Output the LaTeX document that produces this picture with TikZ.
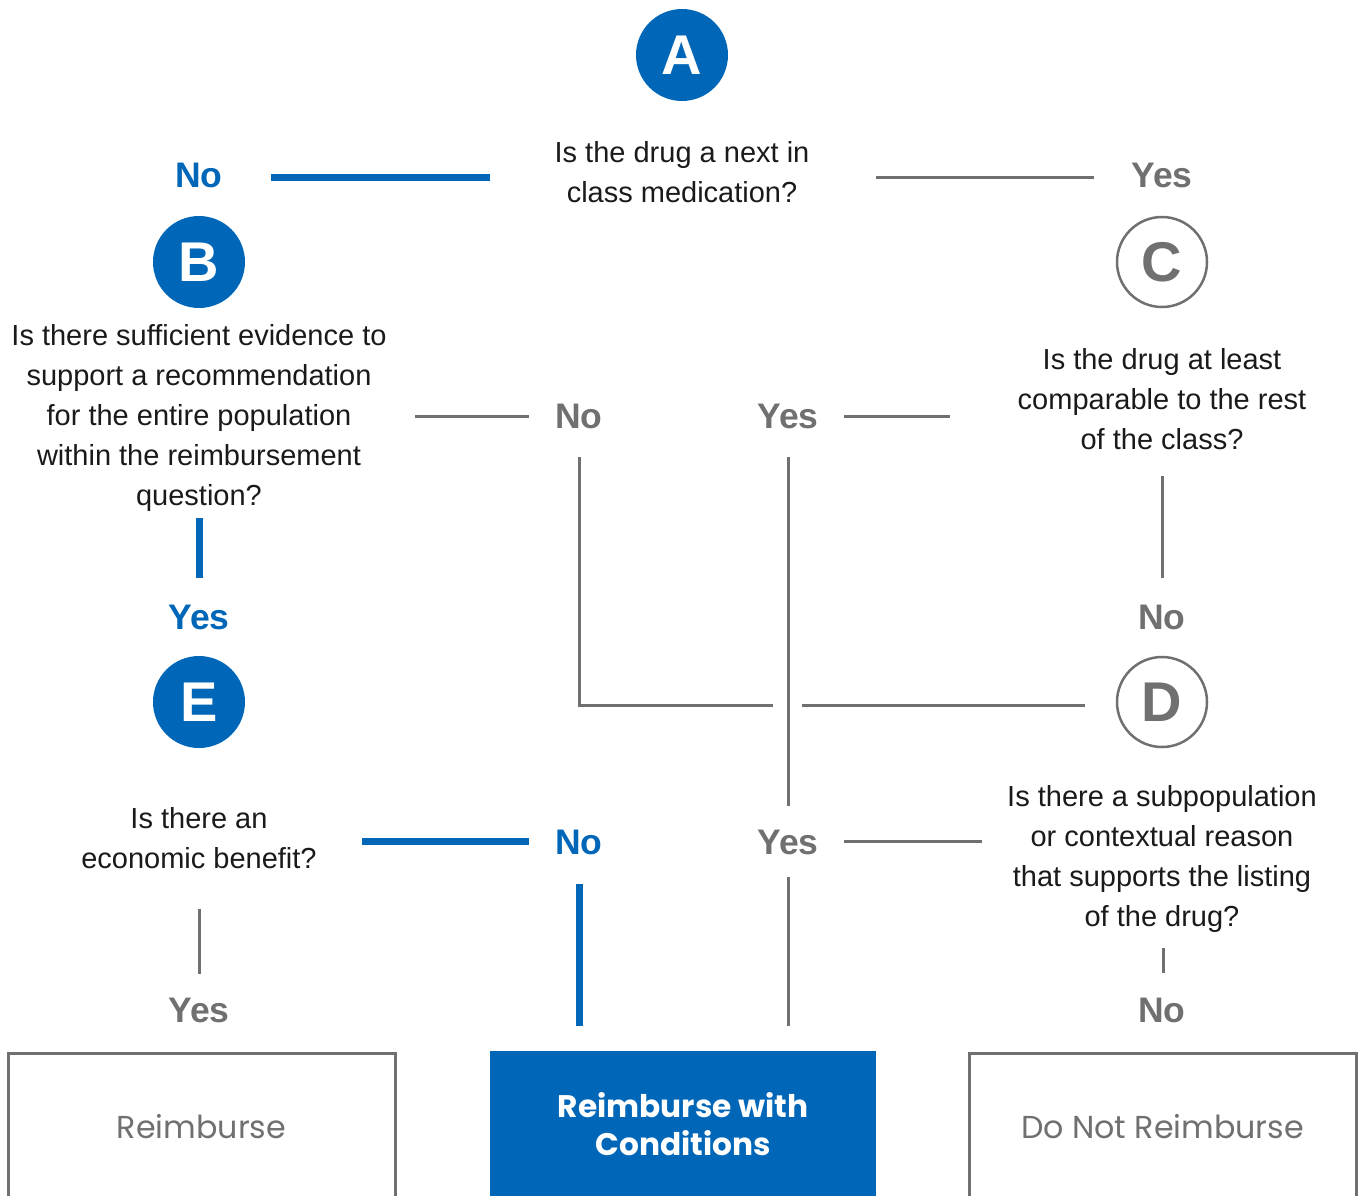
\documentclass[tikz,border=0pt]{standalone}
\usepackage{fontspec}
\setmainfont{Liberation Sans}
\newfontfamily\boxfont{Poppins}
\definecolor{cblue}{RGB}{0,102,184}
\definecolor{cgray}{RGB}{112,112,112}
\definecolor{ctext}{RGB}{26,26,26}
\tikzset{
  qtext/.style={align=center,text=ctext,font=\fontsize{29}{39.8}\selectfont,inner sep=0pt},
  lblue/.style={text=cblue,font=\fontsize{35.5}{40}\selectfont\bfseries,inner sep=0pt},
  lgray/.style={text=cgray,font=\fontsize{35.5}{40}\selectfont\bfseries,inner sep=0pt},
  cfill/.style={circle,fill=cblue,minimum size=92pt,inner sep=0pt,text=white,font=\fontsize{56}{56}\selectfont\bfseries},
  copen/.style={circle,draw=cgray,line width=2.5pt,fill=white,minimum size=90pt,inner sep=0pt,text=cgray,font=\fontsize{56}{56}\selectfont\bfseries},
  bline/.style={draw=cblue,line width=7pt},
  gline/.style={draw=cgray,line width=3pt},
  obox/.style={draw=cgray,line width=3pt,fill=white},
}
\begin{document}
\begin{tikzpicture}[x=1pt,y=-1pt]
\useasboundingbox (0,0) rectangle (1358,1195);
% circles
\node[cfill] (cA) at (682,55) {A};
\node[cfill] (cB) at (199,262) {B};
\node[copen] (cC) at (1162,262) {C};
\node[cfill] (cE) at (199,702) {E};
\node[copen] (cD) at (1162,702) {D};
% questions
\node[qtext] (qA) at (682,172) {Is the drug a next in\\class medication?};
\node[qtext] (qB) at (199,418) {Is there sufficient evidence to\\support a recommendation\\for the entire population\\within the reimbursement\\question?};
\node[qtext] (qC) at (1162,399) {Is the drug at least\\comparable to the rest\\of the class?};
\node[qtext] (qE) at (199,838) {Is there an\\economic benefit?};
\node[qtext] (qD) at (1162,859) {Is there a subpopulation\\or contextual reason\\that supports the listing\\of the drug?};
% labels
\node[lblue] (noA) at (199,175) {No};
\node[lgray] (yesA) at (1162,175) {Yes};
\node[lgray] (noB) at (579,416) {No};
\node[lgray] (yesC) at (788,416) {Yes};
\node[lgray] (noC) at (1162,617) {No};
\node[lblue] (yesB) at (199,617) {Yes};
\node[lblue] (noE) at (579,842) {No};
\node[lgray] (yesD) at (788,842) {Yes};
\node[lgray] (noD) at (1162,1010) {No};
\node[lgray] (yesE) at (199,1010) {Yes};
% outcome boxes
\draw[obox] (8,1200) |- (395,1053) -- (395,1200);
\node[text=cgray,font=\boxfont\fontsize{31.7}{36}\selectfont] (rA) at (201.5,1127) {Reimburse};
\fill[cblue] (490,1051) rectangle (876,1200);
\node[text=white,font=\boxfont\fontsize{31.2}{38.5}\selectfont\bfseries,align=center] (rB) at (683,1124) {Reimburse with\\Conditions};
\draw[obox] (969,1200) |- (1356,1053) -- (1356,1200);
\node[text=cgray,font=\boxfont\fontsize{31.7}{36}\selectfont] (rC) at (1162.5,1127) {Do Not Reimburse};
% connector coordinates
\coordinate (a1) at (271,177); \coordinate (a2) at (490,177);
\coordinate (a3) at (876,177); \coordinate (a4) at (1094,177);
\coordinate (b1) at (415,416); \coordinate (b2) at (529,416);
\coordinate (b3) at (844,416); \coordinate (b4) at (950,416);
\coordinate (c1) at (1162,476); \coordinate (c2) at (1162,578);
\coordinate (b5) at (199,518); \coordinate (b6) at (199,578);
\coordinate (n1) at (579,457); \coordinate (n2) at (579,705); \coordinate (n3) at (773,705);
\coordinate (d1) at (802,705); \coordinate (d2) at (1085,705);
\coordinate (y1) at (788,457); \coordinate (y2) at (788,806);
\coordinate (e1) at (362,841); \coordinate (e2) at (529,841);
\coordinate (e3) at (844,841); \coordinate (e4) at (982,841);
\coordinate (d3) at (1163,948); \coordinate (d4) at (1163,973);
\coordinate (e5) at (199,909); \coordinate (e6) at (199,974);
\coordinate (f1) at (579,884); \coordinate (f2) at (579,1026);
\coordinate (g1) at (788,877); \coordinate (g2) at (788,1026);
% connectors
\draw[bline] (a1) -- (a2);
\draw[gline] (a3) -- (a4);
\draw[gline] (b1) -- (b2);
\draw[gline] (b3) -- (b4);
\draw[gline] (c1) -- (c2);
\draw[bline] (b5) -- (b6);
\draw[gline] (n1) -- (n2) -- (n3);
\draw[gline] (d1) -- (d2);
\draw[gline] (y1) -- (y2);
\draw[bline] (e1) -- (e2);
\draw[gline] (e3) -- (e4);
\draw[gline] (d3) -- (d4);
\draw[gline] (e5) -- (e6);
\draw[bline] (f1) -- (f2);
\draw[gline] (g1) -- (g2);
\end{tikzpicture}
\end{document}
